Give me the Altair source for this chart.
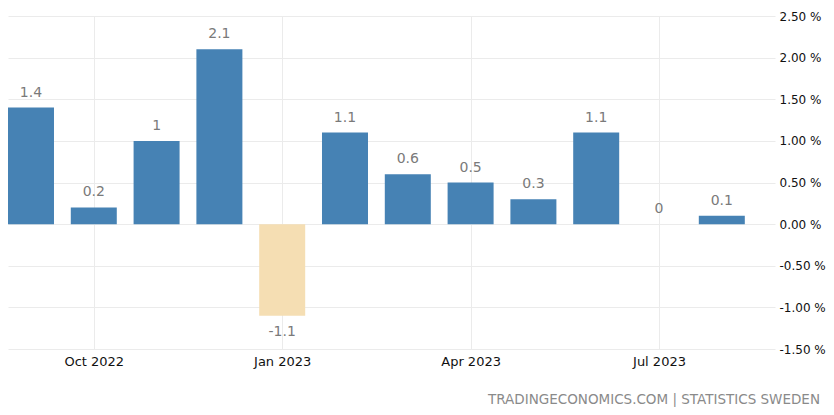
import altair as alt
import pandas as pd

months = ["Sep 2022", "Oct 2022", "Nov 2022", "Dec 2022", "Jan 2023", "Feb 2023",
          "Mar 2023", "Apr 2023", "May 2023", "Jun 2023", "Jul 2023", "Aug 2023"]
values = [1.4, 0.2, 1.0, 2.1, -1.1, 1.1, 0.6, 0.5, 0.3, 1.1, 0.0, 0.1]
x_tick_idx = [1, 4, 7, 10]
y_ticks = [-1.5, -1.0, -0.5, 0.0, 0.5, 1.0, 1.5, 2.0, 2.5]
source = "TRADINGECONOMICS.COM | STATISTICS SWEDEN"

df = pd.DataFrame({
    "idx": list(range(len(months))),
    "month": months,
    "value": values,
    "label": [f"{v:g}" for v in values],
})

FONT = "DejaVu Sans"
month_js = "[" + ",".join(f"'{m}'" for m in months) + "]"

x_enc = alt.X(
    "idx:Q",
    scale=alt.Scale(domain=[-0.366, 11.847], nice=False, zero=False, padding=0),
    axis=alt.Axis(
        values=x_tick_idx, labelExpr=f"{month_js}[datum.value]", title=None,
        grid=True, gridColor="#ebebeb", domain=False, ticks=False,
        labelFont=FONT, labelFontSize=13, labelColor="#111", labelPadding=6,
    ),
)
y_enc = alt.Y(
    "value:Q",
    scale=alt.Scale(domain=[-1.5, 2.5], nice=False, zero=False, padding=0),
    axis=alt.Axis(
        orient="right", values=y_ticks, title=None,
        labelExpr="replace(format(datum.value, '.2f'), '\u2212', '-') + ' %'",
        grid=True, gridColor="#ebebeb", domain=False, ticks=False,
        labelFont=FONT, labelFontSize=12, labelColor="#111", labelPadding=4,
    ),
)

base = alt.Chart(df)

bars = base.mark_bar(size=46).encode(
    x=x_enc, y=y_enc,
    color=alt.condition(alt.datum.value < 0, alt.value("#F5DEB3"), alt.value("#4682B4")),
)

pos_labels = base.transform_filter(alt.datum.value >= 0).mark_text(
    dy=-15, font=FONT, fontSize=14, color="#7a7a7a", baseline="middle"
).encode(x="idx:Q", y="value:Q", text="label:N")

neg_labels = base.transform_filter(alt.datum.value < 0).mark_text(
    dy=16, font=FONT, fontSize=14, color="#7a7a7a", baseline="middle"
).encode(x="idx:Q", y="value:Q", text="label:N")

src = alt.Chart(pd.DataFrame({"t": [source]})).mark_text(
    align="right", baseline="middle", font=FONT, fontSize=13.5, color="#8a8a8a"
).encode(x=alt.value(812), y=alt.value(384), text="t:N")

chart = alt.layer(bars, pos_labels, neg_labels, src).properties(
    width=767, height=333,
    autosize=alt.AutoSizeParams(type="none"),
    padding={"left": 0, "top": 8, "right": 51, "bottom": 58},
).configure_view(stroke=None)

chart.save("out.html", embed_options={"renderer": "svg", "actions": False})
